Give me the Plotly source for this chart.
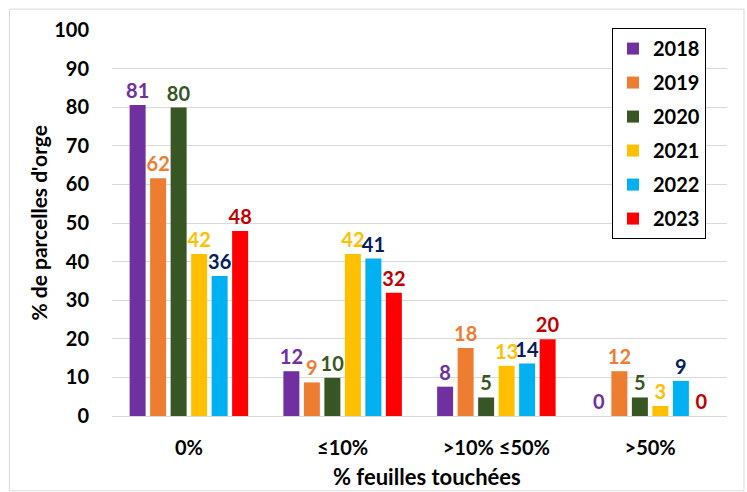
import plotly.graph_objects as go

categories = ["0%", "≤10%", ">10% ≤50%", ">50%"]
years = ["2018", "2019", "2020", "2021", "2022", "2023"]

v2018 = [80.6, 11.6, 7.6, 0.0]
v2019 = [61.6, 8.7, 17.6, 11.6]
v2020 = [79.9, 9.9, 4.8, 4.8]
v2021 = [42.0, 42.0, 13.0, 2.6]
v2022 = [36.3, 40.8, 13.6, 9.1]
v2023 = [47.9, 31.9, 19.9, 0.0]

series = [v2018, v2019, v2020, v2021, v2022, v2023]
bar_colors = ["#7030A0", "#ED7D31", "#375623", "#FFC000", "#00B0F0", "#FF0000"]
label_colors = ["#7030A0", "#ED7D31", "#375623", "#FFC000", "#002060", "#C00000"]

x_title = "% feuilles touchées"
y_title = "% de parcelles d'orge"

FONT = "Lato, 'Open Sans', sans-serif"

fig = go.Figure()
for year, vals, bc, lc in zip(years, series, bar_colors, label_colors):
    fig.add_trace(go.Bar(
        name=year,
        x=categories,
        y=vals,
        marker=dict(color=bc, line=dict(width=0)),
        text=vals,
        texttemplate="%{y:.0f}",
        textposition="outside",
        textfont=dict(color=lc, size=20, family=FONT, weight="bold"),
        constraintext="none",
        cliponaxis=False,
        legendgroup=year,
    ))

fig.update_layout(
    width=747,
    height=492,
    margin=dict(l=112, r=20, t=30, b=76),
    paper_bgcolor="white",
    plot_bgcolor="white",
    barmode="group",
    bargap=0.2,
    bargroupgap=0.22,
    font=dict(family=FONT, color="black"),
    legend=dict(
        x=0.813, xanchor="left",
        y=1.005, yanchor="top",
        bgcolor="white",
        bordercolor="black",
        borderwidth=1,
        font=dict(size=20, family=FONT, weight="bold"),
        tracegroupgap=5,
        itemwidth=30,
    ),
    showlegend=True,
    shapes=[dict(
        type="rect", xref="paper", yref="paper",
        x0=-0.1665, x1=1.0276, y0=-0.194, y1=1.054,
        line=dict(color="#D9D9D9", width=1),
        fillcolor="rgba(0,0,0,0)",
        layer="below",
    )],
    annotations=[
        dict(text=x_title, xref="paper", yref="paper", x=0.512, y=-0.158,
             xanchor="center", yanchor="middle", showarrow=False,
             font=dict(size=22, family=FONT, weight="bold", color="black")),
        dict(text=y_title, xref="paper", yref="paper", x=-0.121, y=0.5,
             xanchor="center", yanchor="middle", showarrow=False, textangle=-90,
             font=dict(size=21, family=FONT, weight="bold", color="black")),
    ],
)

fig.update_yaxes(
    range=[0, 100],
    dtick=10,
    showgrid=True,
    gridcolor="#D9D9D9",
    gridwidth=1,
    zeroline=False,
    showline=False,
    automargin=False,
    tickfont=dict(size=20, family=FONT, weight="bold"),
    ticklabelstandoff=22,
)
fig.update_xaxes(
    showline=True,
    linecolor="#D9D9D9",
    linewidth=1,
    automargin=False,
    tickfont=dict(size=20, family=FONT, weight="bold"),
    ticklabelstandoff=14,
)

fig.write_html("out.html")
